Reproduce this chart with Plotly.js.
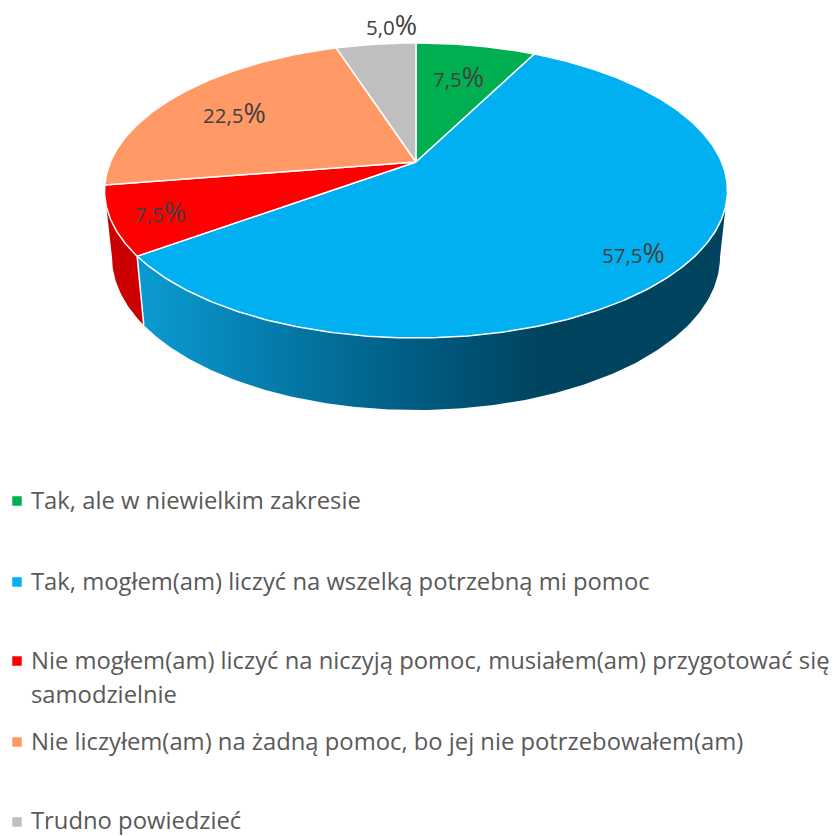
<!DOCTYPE html>
<html><head><meta charset="utf-8">
<script src="https://cdn.plot.ly/plotly-3.0.1.min.js"></script>
<style>html,body{margin:0;padding:0;background:#fff}#c{width:837px;height:836px}</style>
</head><body><div id="c"></div>
<script>
// --- data ---
const categories = [
  "Tak, ale w niewielkim zakresie",
  "Tak, mogłem(am) liczyć na wszelką potrzebną mi pomoc",
  "Nie mogłem(am) liczyć na niczyją pomoc, musiałem(am) przygotować się samodzielnie",
  "Nie liczyłem(am) na żadną pomoc, bo jej nie potrzebowałem(am)",
  "Trudno powiedzieć"
];
const values = [7.5, 57.5, 7.5, 22.5, 5.0];

// --- styles ---
const colors = ["#00B050", "#00B0F0", "#FF0000", "#FF9966", "#BFBFBF"];
const FONT = "'Open Sans', Lato, sans-serif";
const labelFont = 20.5, percentFont = 27, legendFont = 23.8;

// --- projection of the pie disc ---
const topDisc = {cx:416, y0:162, A:305.6, B:142, k:0.193};
const botDisc = {cx:416, y0:227.5, A:298.3, B:147.3, k:0.193};
function rim(d, deg, r){
  r = r===undefined?1:r;
  const t = deg*Math.PI/180, X = r*Math.sin(t), Y = r*Math.cos(t), w = 1 + d.k*Y;
  return [d.cx + d.A*X/w, d.y0 - d.B*Y/w];
}
function arc(d, a0, a1){
  const n = Math.max(2, Math.ceil(Math.abs(a1-a0)*1.5)), pts=[];
  for(let i=0;i<=n;i++) pts.push(rim(d, a0+(a1-a0)*i/n));
  return pts;
}
const total = values.reduce((a,b)=>a+b,0);
let acc = 0;
const angles = values.map(v=>{const s=acc/total*360; acc+=v; return [s, acc/total*360];});
const silR = Math.acos(-topDisc.k)*180/Math.PI, silL = 360-silR;

const traces = [];
function wall(a0, a1, extra){
  const pts = arc(topDisc,a0,a1).concat(arc(botDisc,a1,a0));
  pts.push(pts[0]);
  traces.push(Object.assign({
    type:"scatter", mode:"lines", x:pts.map(p=>p[0]), y:pts.map(p=>p[1]),
    fill:"toself", line:{width:0, color:"rgba(0,0,0,0)"}, showlegend:false, hoverinfo:"skip"
  }, extra));
}
// side walls: blue slice (visible part) and red slice
wall(silR, angles[1][1], {
  fillgradient:{type:"horizontal", start:145, stop:540,
    colorscale:[[0,"#0B9AD0"],[0.35,"#0479A8"],[0.7,"#005A80"],[1,"#00445F"]]}
});
wall(angles[2][0], silL, {fillcolor:"#CC0000"});
// thin white seam between the two walls
(function(){
  const a=rim(topDisc,angles[1][1]), b=rim(botDisc,angles[1][1]);
  traces.push({type:"scatter",mode:"lines",x:[a[0],b[0]],y:[a[1],b[1]],
    line:{color:"#fff",width:1.5},showlegend:false,hoverinfo:"skip"});
})();
// top face
values.forEach((v,i)=>{
  const pts=[[topDisc.cx,topDisc.y0]].concat(arc(topDisc,angles[i][0],angles[i][1]));
  pts.push(pts[0]);
  traces.push({type:"scatter",mode:"lines",x:pts.map(p=>p[0]),y:pts.map(p=>p[1]),
    fill:"toself",fillcolor:colors[i],line:{color:"#fff",width:1.5},
    name:categories[i],text:v.toFixed(1).replace(".",",")+"%",hoverinfo:"name+text",showlegend:false});
});

// --- data labels ---
const labelX = [458, 633, 160, 234, 391], labelY = [76, 252, 211, 112, 24];
const annotations = values.map((v,i)=>({
  x:labelX[i], y:labelY[i], xref:"x", yref:"y", showarrow:false,
  text:v.toFixed(1).replace(".",",")+'<span style="font-size:'+percentFont+'px">%</span>',
  font:{family:FONT,size:labelFont,color:"#404040"}
}));

// --- legend ---
const legendX = 17, legendTextX = 29;
const legendMarkerY = [501, 582, 661, 742, 822];
const legendTextY = [500, 581, 660, 741, 819.5];
const wrapped = [[categories[0]],[categories[1]],
  ["Nie mogłem(am) liczyć na niczyją pomoc, musiałem(am) przygotować się","samodzielnie"],
  [categories[3]],[categories[4]]];
traces.push({type:"scatter",mode:"markers",x:legendMarkerY.map(()=>legendX),y:legendMarkerY,
  marker:{symbol:"square",size:9.5,color:colors,line:{width:0}},showlegend:false,hoverinfo:"skip"});
wrapped.forEach((lines,i)=>lines.forEach((t,j)=>annotations.push({
  x:legendTextX,y:legendTextY[i]+j*34,xref:"x",yref:"y",xanchor:"left",yanchor:"middle",showarrow:false,
  text:t,align:"left",font:{family:FONT,size:legendFont,color:"#595959"}
})));

Plotly.newPlot("c",traces,{
  width:837,height:836,margin:{l:0,r:0,t:0,b:0},paper_bgcolor:"#fff",plot_bgcolor:"#fff",
  xaxis:{range:[0,837],visible:false,fixedrange:true},
  yaxis:{range:[836,0],visible:false,fixedrange:true},
  showlegend:false,annotations:annotations,hovermode:"closest"
},{displayModeBar:false,staticPlot:false});
</script></body></html>
